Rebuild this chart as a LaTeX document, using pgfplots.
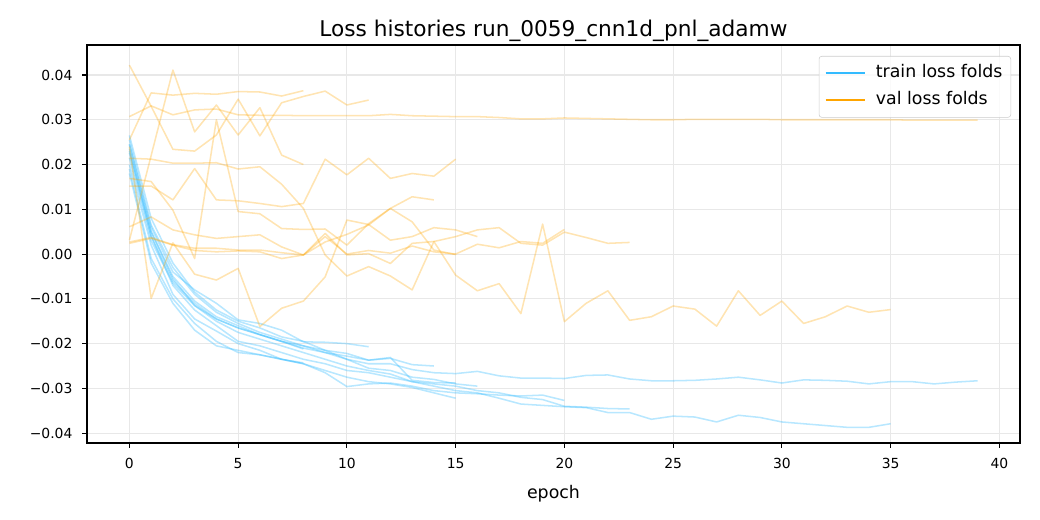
\documentclass[border=0pt]{standalone}
\usepackage{fontspec}
\setmainfont{DejaVu Sans}
\usepackage{pgfplots}
\pgfplotsset{compat=1.18}
\definecolor{trainblue}{RGB}{51,187,255}
\definecolor{valorange}{RGB}{255,165,0}
\begin{document}
\begin{tikzpicture}
\begin{axis}[
  at={(0,0)}, anchor=south west, scale only axis,
  width=671.76pt, height=286.56pt,
  xmin=-1.95, xmax=40.95, ymin=-0.0422, ymax=0.0467,
  scaled y ticks=false, scaled x ticks=false,
  xtick={0,5,10,15,20,25,30,35,40},
  xticklabels={0,5,10,15,20,25,30,35,40},
  ytick={-0.04,-0.03,-0.02,-0.01,0,0.01,0.02,0.03,0.04},
  yticklabels={−0.04,−0.03,−0.02,−0.01,0.00,0.01,0.02,0.03,0.04},
  /pgf/number format/assume math mode=true,
  tick align=outside, tick pos=left, major tick length=3.5pt,
  every tick/.style={black, line width=0.8pt},
  axis line style={line width=0.8pt},
  grid=major, grid style={color=black!9, line width=0.8pt},
  tick label style={font=\fontsize{10}{12}\selectfont},
  xticklabel style={yshift=-4pt},
  yticklabel style={xshift=-3.5pt},
  label style={font=\fontsize{12.5}{15}\selectfont},
  xlabel={epoch},
  xlabel style={yshift=-5pt},
  title={Loss histories run\_0059\_cnn1d\_pnl\_adamw},
  title style={font=\fontsize{15.6}{18}\selectfont, at={(0.5,1)}, anchor=base, yshift=0pt},
  legend style={at={(0.9904,0.9724)}, anchor=north east, draw=black!20, rounded corners=2pt,
    fill=white, fill opacity=0.8, draw opacity=1, text opacity=1,
    font=\fontsize{12.5}{15}\selectfont, inner xsep=4pt, inner ysep=4.2pt, row sep=3.6pt,
    nodes={inner sep=2pt, text height=9pt, text depth=3pt},
    /tikz/every odd column/.append style={column sep=5.4pt}},
  legend cell align=left,
  legend image code/.code={\draw[#1] (0pt,0pt) -- (28pt,0pt);},
  trn/.style={color=trainblue, opacity=0.35, line width=1.1pt, line join=round, forget plot},
  vl/.style={color=valorange, opacity=0.3, line width=1.1pt, line join=round, forget plot},
]
\addlegendimage{color=trainblue, line width=1.5pt}
\addlegendentry{train loss folds}
\addlegendimage{color=valorange, line width=1.5pt}
\addlegendentry{val loss folds}

% ---------------- train folds ----------------
\addplot[trn] coordinates {(0,0.0265)(1,0.008)(2,-0.002)(3,-0.0085)(4,-0.0125)(5,-0.015)(6,-0.0165)(7,-0.0185)(8,-0.0195)(9,-0.0215)(10,-0.0235)(11,-0.0245)(12,-0.0245)(13,-0.0258)(14,-0.0265)(15,-0.0267)(16,-0.0262)(17,-0.0272)(18,-0.0277)(19,-0.0277)(20,-0.0278)(21,-0.0271)(22,-0.0270)(23,-0.0279)(24,-0.0283)(25,-0.0283)(26,-0.0282)(27,-0.0279)(28,-0.0275)(29,-0.0281)(30,-0.0288)(31,-0.0281)(32,-0.0282)(33,-0.0284)(34,-0.0290)(35,-0.0285)(36,-0.0285)(37,-0.0290)(38,-0.0286)(39,-0.0283)};
\addplot[trn] coordinates {(0,0.0245)(1,0.005)(2,-0.0055)(3,-0.0115)(4,-0.015)(5,-0.0175)(6,-0.019)(7,-0.0205)(8,-0.022)(9,-0.0235)(10,-0.025)(11,-0.026)(12,-0.0268)(13,-0.0285)(14,-0.0295)(15,-0.0305)(16,-0.031)(17,-0.0322)(18,-0.0335)(19,-0.0338)(20,-0.0341)(21,-0.0343)(22,-0.0354)(23,-0.0354)(24,-0.0369)(25,-0.0362)(26,-0.0364)(27,-0.0375)(28,-0.0360)(29,-0.0365)(30,-0.0375)(31,-0.0379)(32,-0.0383)(33,-0.0387)(34,-0.0387)(35,-0.0379)};
\addplot[trn] coordinates {(0,0.0235)(1,0.004)(2,-0.007)(3,-0.0125)(4,-0.016)(5,-0.0195)(6,-0.0205)(7,-0.022)(8,-0.0235)(9,-0.0245)(10,-0.026)(11,-0.0265)(12,-0.0275)(13,-0.0285)(14,-0.029)(15,-0.0295)(16,-0.0305)(17,-0.031)(18,-0.032)(19,-0.0325)(20,-0.034)(21,-0.0342)(22,-0.0345)(23,-0.0346)};
\addplot[trn] coordinates {(0,0.018)(1,-0.002)(2,-0.011)(3,-0.017)(4,-0.0205)(5,-0.0215)(6,-0.0225)(7,-0.0235)(8,-0.0245)(9,-0.0265)(10,-0.0296)(11,-0.029)(12,-0.0288)(13,-0.0295)(14,-0.0305)(15,-0.031)(16,-0.0312)(17,-0.0315)(18,-0.0317)(19,-0.0315)(20,-0.0327)};
\addplot[trn] coordinates {(0,0.0255)(1,0.0065)(2,-0.003)(3,-0.009)(4,-0.013)(5,-0.0155)(6,-0.0175)(7,-0.019)(8,-0.0205)(9,-0.022)(10,-0.0235)(11,-0.0255)(12,-0.026)(13,-0.0275)(14,-0.028)(15,-0.029)(16,-0.0295)};
\addplot[trn] coordinates {(0,0.0215)(1,0.003)(2,-0.0065)(3,-0.0115)(4,-0.0145)(5,-0.0165)(6,-0.018)(7,-0.0195)(8,-0.0205)(9,-0.0215)(10,-0.0222)(11,-0.0237)(12,-0.0231)(13,-0.0282)(14,-0.0287)(15,-0.0288)};
\addplot[trn] coordinates {(0,0.019)(1,-0.001)(2,-0.010)(3,-0.0155)(4,-0.0195)(5,-0.022)(6,-0.0225)(7,-0.0235)(8,-0.0245)(9,-0.026)(10,-0.0275)(11,-0.0285)(12,-0.029)(13,-0.0298)(14,-0.031)(15,-0.0322)};
\addplot[trn] coordinates {(0,0.023)(1,0.005)(2,-0.005)(3,-0.0105)(4,-0.014)(5,-0.016)(6,-0.018)(7,-0.0195)(8,-0.021)(9,-0.022)(10,-0.0228)(11,-0.0237)(12,-0.0233)(13,-0.0247)(14,-0.025)};
\addplot[trn] coordinates {(0,0.0245)(1,0.006)(2,-0.004)(3,-0.008)(4,-0.011)(5,-0.0147)(6,-0.0155)(7,-0.017)(8,-0.0196)(9,-0.0197)(10,-0.020)(11,-0.0207)};
\addplot[trn] coordinates {(0,0.020)(1,0.002)(2,-0.009)(3,-0.0145)(4,-0.0172)(5,-0.020)(6,-0.0215)(7,-0.0235)(8,-0.0243)};
\addplot[trn] coordinates {(0,0.0226)(1,0.004)(2,-0.006)(3,-0.011)(4,-0.0145)(5,-0.0165)(6,-0.018)(7,-0.0195)(8,-0.0212)};

% ---------------- val folds ----------------
\addplot[vl] coordinates {(0,0.0307)(1,0.0331)(2,0.0311)(3,0.0322)(4,0.0324)(5,0.0311)(6,0.0310)(7,0.0310)(8,0.0309)(9,0.0309)(10,0.0309)(11,0.0309)(12,0.0312)(13,0.0309)(14,0.0308)(15,0.0307)(16,0.0307)(17,0.0305)(18,0.0302)(19,0.0302)(20,0.0304)(21,0.0303)(22,0.0302)(23,0.0301)(24,0.0300)(25,0.0300)(26,0.0301)(27,0.0301)(28,0.0301)(29,0.0301)(30,0.0300)(31,0.0300)(32,0.0300)(33,0.0300)(34,0.0300)(35,0.0300)(36,0.0299)(37,0.0299)(38,0.0299)(39,0.0299)};
\addplot[vl] coordinates {(0,0.0214)(1,0.0212)(2,0.0203)(3,0.0203)(4,0.0204)(5,0.0190)(6,0.0195)(7,0.0156)(8,0.0102)(9,-0.0002)(10,-0.0049)(11,-0.0028)(12,-0.0049)(13,-0.0080)(14,0.0028)(15,-0.0047)(16,-0.0082)(17,-0.0066)(18,-0.0133)(19,0.0067)(20,-0.0151)(21,-0.0110)(22,-0.0082)(23,-0.0148)(24,-0.0140)(25,-0.0116)(26,-0.0123)(27,-0.0161)(28,-0.0082)(29,-0.0137)(30,-0.0105)(31,-0.0155)(32,-0.0140)(33,-0.0116)(34,-0.0130)(35,-0.0124)};
\addplot[vl] coordinates {(0,0.0061)(1,0.0083)(2,0.0054)(3,0.0043)(4,0.0035)(5,0.0039)(6,0.0043)(7,0.0016)(8,-0.0002)(9,0.0046)(10,-0.0002)(11,0.0001)(12,-0.0021)(13,0.0024)(14,0.0028)(15,0.0039)(16,0.0054)(17,0.0059)(18,0.0024)(19,0.0020)(20,0.0049)(21,0.0037)(22,0.0024)(23,0.0026)};
\addplot[vl] coordinates {(0,0.0027)(1,0.0037)(2,0.0021)(3,0.0013)(4,0.0013)(5,0.0009)(6,0.0009)(7,0.0003)(8,-0.0002)(9,0.0039)(10,0.0000)(11,0.0008)(12,0.0002)(13,0.0018)(14,0.0005)(15,0.0000)(16,0.0022)(17,0.0014)(18,0.0028)(19,0.0024)(20,0.0055)};
\addplot[vl] coordinates {(0,0.0240)(1,-0.0099)(2,0.0025)(3,-0.0045)(4,-0.0058)(5,-0.0032)(6,-0.0162)(7,-0.0121)(8,-0.0105)(9,-0.0051)(10,0.0076)(11,0.0066)(12,0.0031)(13,0.0039)(14,0.0059)(15,0.0054)(16,0.0039)};
\addplot[vl] coordinates {(0,0.0152)(1,0.0152)(2,0.0121)(3,0.0191)(4,0.0121)(5,0.0119)(6,0.0113)(7,0.0106)(8,0.0113)(9,0.0212)(10,0.0177)(11,0.0214)(12,0.0169)(13,0.0180)(14,0.0174)(15,0.0212)};
\addplot[vl] coordinates {(0,0.0024)(1,0.0035)(2,0.0020)(3,0.0008)(4,0.0005)(5,0.0007)(6,0.0005)(7,-0.0010)(8,-0.0002)(9,0.0027)(10,0.0044)(11,0.0065)(12,0.0102)(13,0.0072)(14,0.0009)(15,-0.0001)};
\addplot[vl] coordinates {(0,0.0169)(1,0.0162)(2,0.0098)(3,-0.0010)(4,0.0300)(5,0.0095)(6,0.0090)(7,0.0057)(8,0.0055)(9,0.0056)(10,0.0020)(11,0.0068)(12,0.0102)(13,0.0128)(14,0.0121)};
\addplot[vl] coordinates {(0,0.0422)(1,0.0330)(2,0.0234)(3,0.0230)(4,0.0266)(5,0.0346)(6,0.0264)(7,0.0338)(8,0.0352)(9,0.0364)(10,0.0333)(11,0.0344)};
\addplot[vl] coordinates {(0,0.0255)(1,0.0360)(2,0.0355)(3,0.0359)(4,0.0357)(5,0.0363)(6,0.0362)(7,0.0353)(8,0.0365)};
\addplot[vl] coordinates {(0,0.0031)(1,0.0220)(2,0.0411)(3,0.0273)(4,0.0333)(5,0.0266)(6,0.0327)(7,0.0221)(8,0.0200)};
\end{axis}
\pgfresetboundingbox
\path[use as bounding box] (-62.64pt,-55.44pt) rectangle (686.16pt,318.96pt);
\end{tikzpicture}
\end{document}
